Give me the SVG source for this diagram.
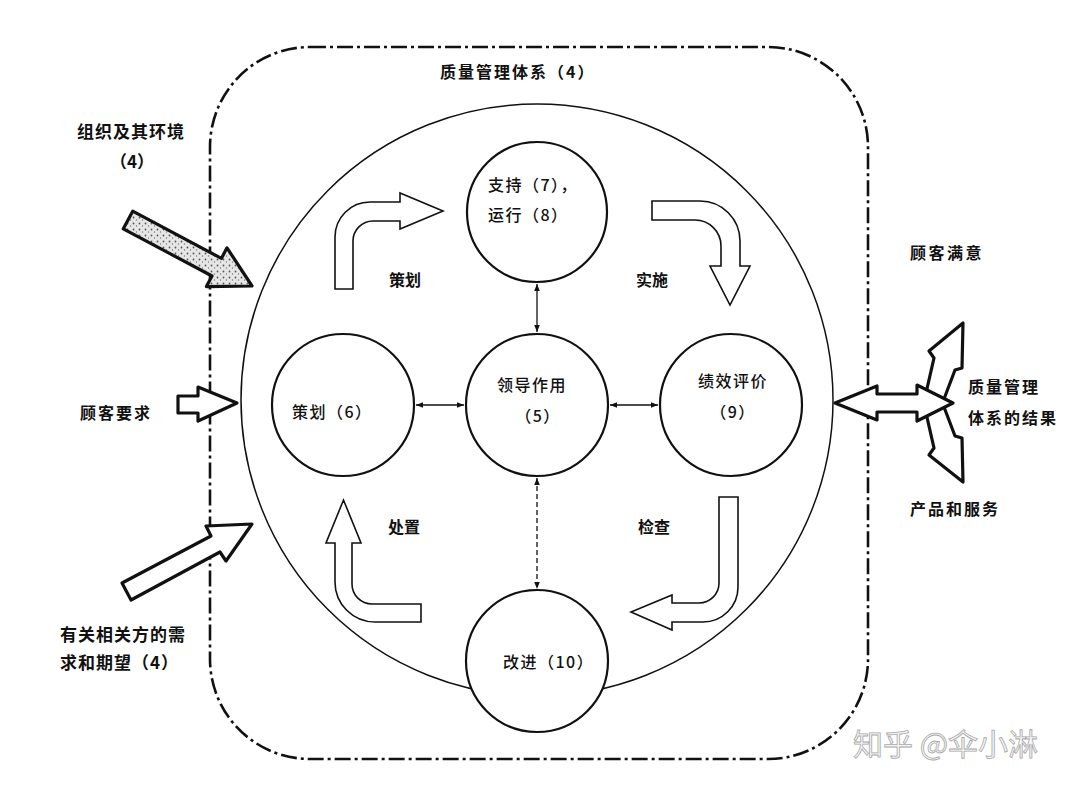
<svg xmlns="http://www.w3.org/2000/svg" width="1080" height="787" viewBox="0 0 1080 787">
<style>
.t{font-family:"Noto Sans CJK SC","Noto Sans",sans-serif;fill:#111;}
.in{font-size:16px;font-weight:500;letter-spacing:1.5px;}
.out{font-size:16px;font-weight:bold;letter-spacing:2px;}
.node{fill:#fff;stroke:#111;stroke-width:2.2;}
.blk{fill:#fff;stroke:#111;stroke-width:1.6;stroke-linejoin:miter;}
.thick{fill:#fff;stroke:#111;stroke-width:3.2;stroke-linejoin:round;}
.con{stroke:#111;stroke-width:1.3;fill:none;marker-start:url(#ah);marker-end:url(#ah);}
</style>
<defs>
<marker id="ah" viewBox="0 0 10 10" refX="10" refY="5" markerWidth="9" markerHeight="7" markerUnits="userSpaceOnUse" orient="auto-start-reverse">
<path d="M0,1 L10,5 L0,9 Z" fill="#111"/>
</marker>
<pattern id="stip" width="6" height="6" patternUnits="userSpaceOnUse">
<rect width="6" height="6" fill="#e6e6e6"/>
<circle cx="1.5" cy="1.5" r="0.9" fill="#555"/>
<circle cx="4.5" cy="4" r="0.7" fill="#777"/>
</pattern>
</defs>
<rect width="1080" height="787" fill="#fff"/>

<g id="frame">
<rect x="210" y="47" width="658" height="712" rx="100" ry="100" fill="none" stroke="#111" stroke-width="2.6" stroke-dasharray="16 4 3 4"/>
<text class="t out" x="440" y="78">质量管理体系（4）</text>
</g>

<g id="big-circle">
<circle cx="537" cy="400" r="296" fill="none" stroke="#111" stroke-width="1.5"/>
</g>

<g id="connectors">
<line class="con" x1="416" y1="405" x2="464" y2="405"/>
<line class="con" x1="610" y1="405" x2="658" y2="405"/>
<line class="con" x1="537" y1="284" x2="537" y2="332"/>
<line class="con" x1="537" y1="478" x2="537" y2="589" stroke-dasharray="5 3"/>
</g>

<g id="node-support">
<circle class="node" cx="537" cy="212" r="70"/>
<text class="t in" x="488" y="191">支持（7），</text>
<text class="t in" x="488" y="221">运行（8）</text>
</g>
<g id="node-plan">
<circle class="node" cx="343" cy="405" r="71"/>
<text class="t in" x="292" y="418">策划（6）</text>
</g>
<g id="node-leadership">
<circle class="node" cx="537" cy="405" r="71"/>
<text class="t in" x="497" y="391">领导作用</text>
<text class="t in" x="538" y="422" text-anchor="middle">（5）</text>
</g>
<g id="node-evaluation">
<circle class="node" cx="731" cy="405" r="71"/>
<text class="t in" x="698" y="387">绩效评价</text>
<text class="t in" x="733" y="418" text-anchor="middle">（9）</text>
</g>
<g id="node-improve">
<circle class="node" cx="537" cy="661" r="71"/>
<text class="t in" x="503" y="668">改进（10）</text>
</g>

<g id="cycle-arrows">
<path class="blk" d="M335,289 L335,237 A35,35 0 0 1 370,202 L400,202 L400,193 L443,211 L400,229 L400,221 L373,221 A20,20 0 0 0 353,241 L353,289 Z"/>
<path class="blk" d="M652,201 L700,201 A40,40 0 0 1 740,241 L740,266 L750,266 L730,305 L710,266 L721,266 L721,246 A26,26 0 0 0 695,220 L652,220 Z"/>
<path class="blk" d="M719,497 L738,497 L738,587 A35,35 0 0 1 703,622 L672,622 L672,630 L631,612 L672,595 L672,603 L699,603 A20,20 0 0 0 719,583 Z"/>
<path class="blk" d="M421,604 L421,622 L375,622 A40,40 0 0 1 335,582 L335,543 L326,543 L343.5,500 L361,543 L352,543 L352,584 A20,20 0 0 0 372,604 Z"/>
<text class="t out" x="389" y="286" style="letter-spacing:0">策划</text>
<text class="t out" x="636" y="286" style="letter-spacing:0">实施</text>
<text class="t out" x="388" y="533" style="letter-spacing:0">处置</text>
<text class="t out" x="638" y="533" style="letter-spacing:0">检查</text>
</g>

<g id="input-environment">
<path class="thick" style="fill:url(#stip)" d="M132.7,211.2 L221.4,258.4 L227,247.8 L252,286 L206.4,286.6 L212,276 L123.3,228.8 Z"/>
<text class="t out" x="77" y="138" style="font-size:17px;letter-spacing:1px">组织及其环境</text>
<text class="t out" x="110" y="168" style="font-size:17px;letter-spacing:0">（4）</text>
</g>

<g id="input-customer">
<path class="thick" d="M178,396 L198,396 L198,387 L237,403 L198,421 L198,413 L178,413 Z"/>
<text class="t out" x="80" y="419">顾客要求</text>
</g>

<g id="input-parties">
<path class="thick" d="M122,583 L211,536 L206,526 L252,524 L226,561 L220,552 L131,600 Z"/>
<text class="t out" x="60" y="641" style="font-size:17px;letter-spacing:1px">有关相关方的需</text>
<text class="t out" x="60" y="669" style="font-size:17px;letter-spacing:1px">求和期望（4）</text>
</g>

<g id="output-results">
<path class="thick" d="M926,393 L934,358 L929,351 L963,323 L962,368 L955,370 L944,399 Z"/>
<path class="thick" d="M926,413 L934,448 L929,455 L963,482 L962,438 L955,436 L944,407 Z"/>
<path class="thick" d="M835,403 L877,386 L877,394 L917,394 L917,385 L953,403 L917,421 L917,412 L877,412 L877,420 Z"/>
<text class="t out" x="910" y="259" style="letter-spacing:2.5px">顾客满意</text>
<text class="t out" x="968" y="393">质量管理</text>
<text class="t out" x="968" y="424">体系的结果</text>
<text class="t out" x="910" y="515">产品和服务</text>
</g>

<g id="watermark">
<text x="853" y="755" style="font-family:'Noto Sans CJK SC',sans-serif;font-size:30px;fill:#f6f6f6;stroke:#a8a8a8;stroke-width:0.8">知乎 @伞小淋</text>
</g>
</svg>
